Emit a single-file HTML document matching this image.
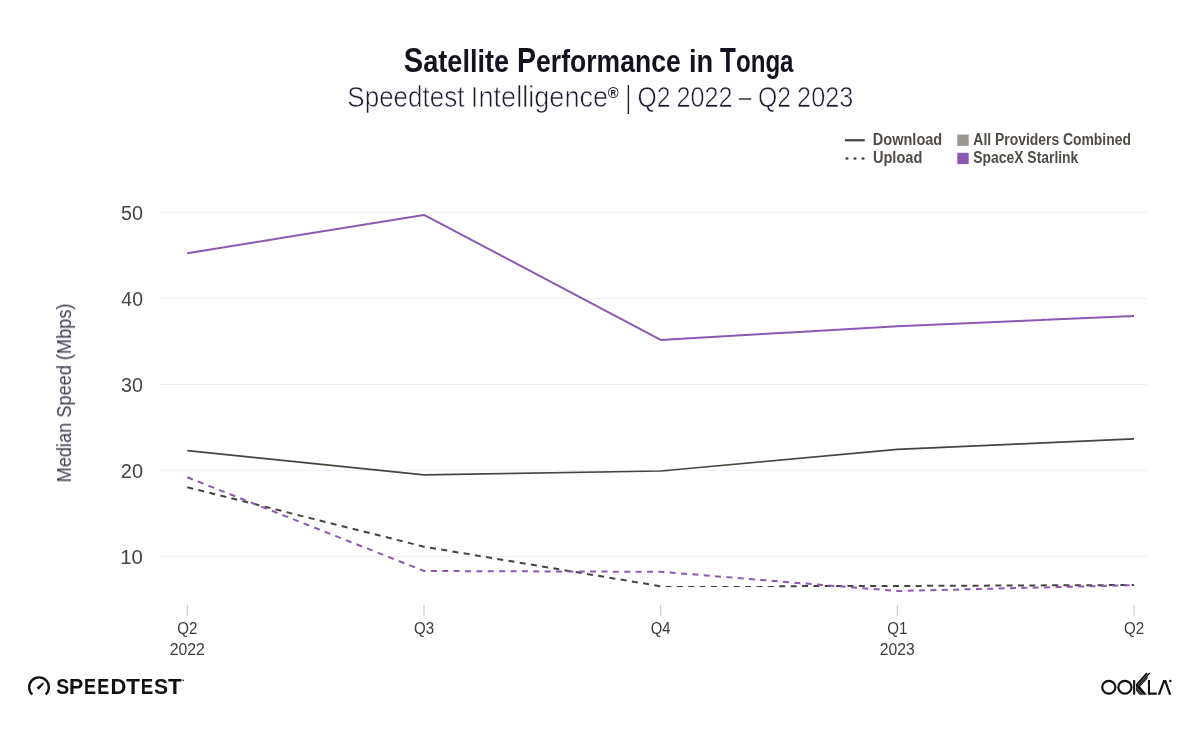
<!DOCTYPE html>
<html><head><meta charset="utf-8"><title>Satellite Performance in Tonga</title>
<style>
html,body{margin:0;padding:0;background:#fff;}
body{width:1201px;height:731px;overflow:hidden;font-family:"Liberation Sans",sans-serif;}
svg{display:block;}
text{font-family:"Liberation Sans",sans-serif;font-kerning:none;}
</style></head><body>
<svg width="1201" height="731" viewBox="0 0 1201 731">
<rect width="1201" height="731" fill="#ffffff"/>
<defs>
<clipPath id="cthin"><rect x="662" y="580" width="117" height="14"/></clipPath>
<clipPath id="cthick"><path d="M0,0H662V731H0Z M779,0H1201V731H779Z"/></clipPath>
</defs>
<g opacity="0.999">

<text transform="translate(403.86,71.9) scale(0.8415,1)" font-weight="700" fill="#12131f" ><tspan font-size="34.6">S</tspan><tspan font-size="32.2">atellite</tspan></text>
<text transform="translate(517.09,71.9) scale(0.8244,1)" font-weight="700" fill="#12131f" ><tspan font-size="34.6">P</tspan><tspan font-size="32.2">erformance</tspan></text>
<text transform="translate(688.90,71.9) scale(0.8453,1)" font-weight="700" fill="#12131f" ><tspan font-size="32.2">in</tspan></text>
<text transform="translate(720.11,71.9) scale(0.7490,1)" font-weight="700" fill="#12131f" ><tspan font-size="34.6">T</tspan><tspan font-size="32.2">onga</tspan></text>
<text transform="translate(347.27,107.0) scale(0.8926,1)" font-size="29.2" font-weight="400" fill="#1c1e30" stroke="#ffffff" stroke-width="0.6">Speedtest</text>
<text transform="translate(470.84,107.0) scale(0.9302,1)" font-size="29.2" font-weight="400" fill="#1c1e30" stroke="#ffffff" stroke-width="0.6">Intelligence</text>
<text transform="translate(637.58,107.0) scale(0.8449,1)" font-size="29.2" font-weight="400" fill="#1c1e30" stroke="#ffffff" stroke-width="0.6">Q2</text>
<text transform="translate(676.48,107.0) scale(0.8626,1)" font-size="29.2" font-weight="400" fill="#1c1e30" stroke="#ffffff" stroke-width="0.6">2022</text>
<text transform="translate(738.75,107.0) scale(0.7704,1)" font-size="29.2" font-weight="400" fill="#1c1e30" stroke="#ffffff" stroke-width="0.6">–</text>
<text transform="translate(757.97,107.0) scale(0.8504,1)" font-size="29.2" font-weight="400" fill="#1c1e30" stroke="#ffffff" stroke-width="0.6">Q2</text>
<text transform="translate(797.08,107.0) scale(0.8665,1)" font-size="29.2" font-weight="400" fill="#1c1e30" stroke="#ffffff" stroke-width="0.6">2023</text>
<text transform="translate(607.77,98.2) scale(1.0186,1)" font-size="14.6" font-weight="700" fill="#1c1e30" >®</text>
<line x1="628.4" y1="85" x2="628.4" y2="114" stroke="#1c1e30" stroke-width="1.4"/>
<line x1="844.9" y1="140.25" x2="864.8" y2="140.25" stroke="#47433f" stroke-width="2.2"/>
<ellipse cx="846.9" cy="158.6" rx="1.6" ry="1.25" fill="#47433f"/>
<ellipse cx="855" cy="158.6" rx="1.6" ry="1.25" fill="#47433f"/>
<ellipse cx="863" cy="158.6" rx="1.6" ry="1.25" fill="#47433f"/>
<text transform="translate(872.83,144.85) scale(0.9316,1)" font-size="15.6" font-weight="700" fill="#4f4b47" >Download</text>
<text transform="translate(872.92,162.85) scale(0.9352,1)" font-size="15.6" font-weight="700" fill="#4f4b47" >Upload</text>
<rect x="957.3" y="134.6" width="11.4" height="11.3" fill="#9a9793"/>
<rect x="957.3" y="152.8" width="11.4" height="11.3" fill="#8b59b2"/>
<text transform="translate(973.35,144.85) scale(0.8922,1)" font-size="15.6" font-weight="700" fill="#4f4b47" >All Providers Combined</text>
<text transform="translate(973.30,162.85) scale(0.8912,1)" font-size="15.6" font-weight="700" fill="#4f4b47" >SpaceX Starlink</text>
<line x1="160" y1="212.5" x2="1146.8" y2="212.5" stroke="#eff0f5" stroke-width="1"/>
<text transform="translate(121.01,219.7) scale(0.9774,1)" font-size="20.2" font-weight="400" fill="#444444" >50</text>
<line x1="160" y1="298.5" x2="1146.8" y2="298.5" stroke="#eff0f5" stroke-width="1"/>
<text transform="translate(121.35,305.7) scale(0.9615,1)" font-size="20.2" font-weight="400" fill="#444444" >40</text>
<line x1="160" y1="384.5" x2="1146.8" y2="384.5" stroke="#eff0f5" stroke-width="1"/>
<text transform="translate(121.05,391.7) scale(0.9756,1)" font-size="20.2" font-weight="400" fill="#444444" >30</text>
<line x1="160" y1="470.5" x2="1146.8" y2="470.5" stroke="#eff0f5" stroke-width="1"/>
<text transform="translate(120.80,477.7) scale(0.9872,1)" font-size="20.2" font-weight="400" fill="#444444" >20</text>
<line x1="160" y1="556.5" x2="1146.8" y2="556.5" stroke="#eff0f5" stroke-width="1"/>
<text transform="translate(120.24,563.7) scale(1.0129,1)" font-size="20.2" font-weight="400" fill="#444444" >10</text>
<text transform="translate(71.05,482.39) rotate(-90) scale(0.9093,1)" font-size="20" font-weight="400" fill="#3b3d50" >Median Speed (Mbps)</text>
<line x1="187.3" y1="605" x2="187.3" y2="615.8" stroke="#c6cadb" stroke-width="1.2"/>
<text transform="translate(177.23,633.7) scale(0.9453,1)" font-size="16" font-weight="400" fill="#3c3c3c" >Q2</text>
<text transform="translate(169.76,654.7) scale(0.9857,1)" font-size="16" font-weight="400" fill="#3c3c3c" >2022</text>
<line x1="424.0" y1="605" x2="424.0" y2="615.8" stroke="#c6cadb" stroke-width="1.2"/>
<text transform="translate(413.94,633.7) scale(0.9405,1)" font-size="16" font-weight="400" fill="#3c3c3c" >Q3</text>
<line x1="660.7" y1="605" x2="660.7" y2="615.8" stroke="#c6cadb" stroke-width="1.2"/>
<text transform="translate(650.65,633.7) scale(0.9296,1)" font-size="16" font-weight="400" fill="#3c3c3c" >Q4</text>
<line x1="897.3" y1="605" x2="897.3" y2="615.8" stroke="#c6cadb" stroke-width="1.2"/>
<text transform="translate(887.23,633.7) scale(0.9442,1)" font-size="16" font-weight="400" fill="#3c3c3c" >Q1</text>
<text transform="translate(879.76,654.7) scale(0.9828,1)" font-size="16" font-weight="400" fill="#3c3c3c" >2023</text>
<line x1="1134.0" y1="605" x2="1134.0" y2="615.8" stroke="#c6cadb" stroke-width="1.2"/>
<text transform="translate(1123.93,633.7) scale(0.9453,1)" font-size="16" font-weight="400" fill="#3c3c3c" >Q2</text>
<polyline points="187.3,450.6 424.0,474.9 660.7,471.0 897.3,449.3 1134.0,438.8" fill="none" stroke="#47433f" stroke-width="1.7" stroke-linejoin="round"/>
<polyline points="187.3,487.2 424.0,546.7 660.7,586.3 897.3,586.0 1134.0,585.0" fill="none" stroke="#47433f" stroke-width="2" stroke-dasharray="6 5.37" clip-path="url(#cthick)"/>
<polyline points="187.3,487.2 424.0,546.7 660.7,586.5 897.3,586.5 1134.0,585.0" fill="none" stroke="#47433f" stroke-width="1" stroke-dasharray="6 5.37" clip-path="url(#cthin)"/>
<polyline points="187.3,253.3 424.0,214.9 660.7,339.9 897.3,326.2 1134.0,316.1" fill="none" stroke="#8b59b2" stroke-width="2" stroke-linejoin="round"/>
<polyline points="187.3,477.3 424.0,571.0 660.7,571.8 897.3,591.0 1134.0,585.2" fill="none" stroke="#8b59b2" stroke-width="2" stroke-dasharray="6 5.37"/>
<path d="M32.3,694.5 A9.85,9.85 0 1 1 45.7,694.5" fill="none" stroke="#111111" stroke-width="2.35"/>
<path d="M36.6,687.6 L38.6,689.9 L44.1,683.6 L43.1,682.6 Z" fill="#111111"/>
<text transform="translate(56.14,694.2) scale(0.8801,1)" font-size="22" font-weight="700" fill="#111111" >S</text>
<text transform="translate(69.07,694.2) scale(0.9719,1)" font-size="22" font-weight="700" fill="#111111" >P</text>
<text transform="translate(83.90,694.2) scale(0.8183,1)" font-size="22" font-weight="700" fill="#111111" >E</text>
<text transform="translate(97.30,694.2) scale(0.8183,1)" font-size="22" font-weight="700" fill="#111111" >E</text>
<text transform="translate(110.43,694.2) scale(1.0006,1)" font-size="22" font-weight="700" fill="#111111" >D</text>
<text transform="translate(126.25,694.2) scale(1.0189,1)" font-size="22" font-weight="700" fill="#111111" >T</text>
<text transform="translate(140.65,694.2) scale(0.8507,1)" font-size="22" font-weight="700" fill="#111111" >E</text>
<text transform="translate(153.99,694.2) scale(0.9559,1)" font-size="22" font-weight="700" fill="#111111" >S</text>
<text transform="translate(168.05,694.2) scale(1.0189,1)" font-size="22" font-weight="700" fill="#111111" >T</text>
<circle cx="183.2" cy="680.3" r="0.8" fill="#111"/>
<g fill="none" stroke="#111111" stroke-width="2.2">
<ellipse cx="1108.8" cy="687.3" rx="6.6" ry="6.4"/>
<ellipse cx="1124.9" cy="687.3" rx="6.6" ry="6.4"/>
</g>
<g fill="#111111">
<rect x="1133.1" y="680.1" width="2.1" height="14.6"/>
<path d="M1135.9,684.3 L1146.3,672.5 L1147.7,673.9 L1149.4,672.6 L1150.1,673.4 L1147.6,676.6 L1147.6,678.4 L1140.4,686.3 L1138.3,685.3 L1136.6,686.6 Z"/>
<path d="M1136.0,684.6 L1138.4,684.6 L1146.9,694.7 L1139.6,694.7 L1136.0,690.6 Z"/>
<path d="M1147.9,680.1 H1150 V692.5 H1156.8 V694.7 H1147.9 Z"/>
<path d="M1157.8,694.7 L1163.2,680.1 L1166.1,680.1 L1171.3,694.7 L1169,694.7 L1164.65,682.6 L1160.1,694.7 Z"/>
<circle cx="1170.4" cy="681" r="1.2"/>
</g>
<g stroke="#ffffff" stroke-width="0.45" opacity="0.75" fill="none">
<line x1="1138.0" y1="685.0" x2="1147.4" y2="674.3"/>
<line x1="1139.6" y1="685.6" x2="1148.6" y2="675.3"/>
<line x1="1136.2" y1="686.6" x2="1143.2" y2="694.9"/>
<line x1="1136.0" y1="688.6" x2="1141.4" y2="694.9"/>
</g>
</g></svg></body></html>
